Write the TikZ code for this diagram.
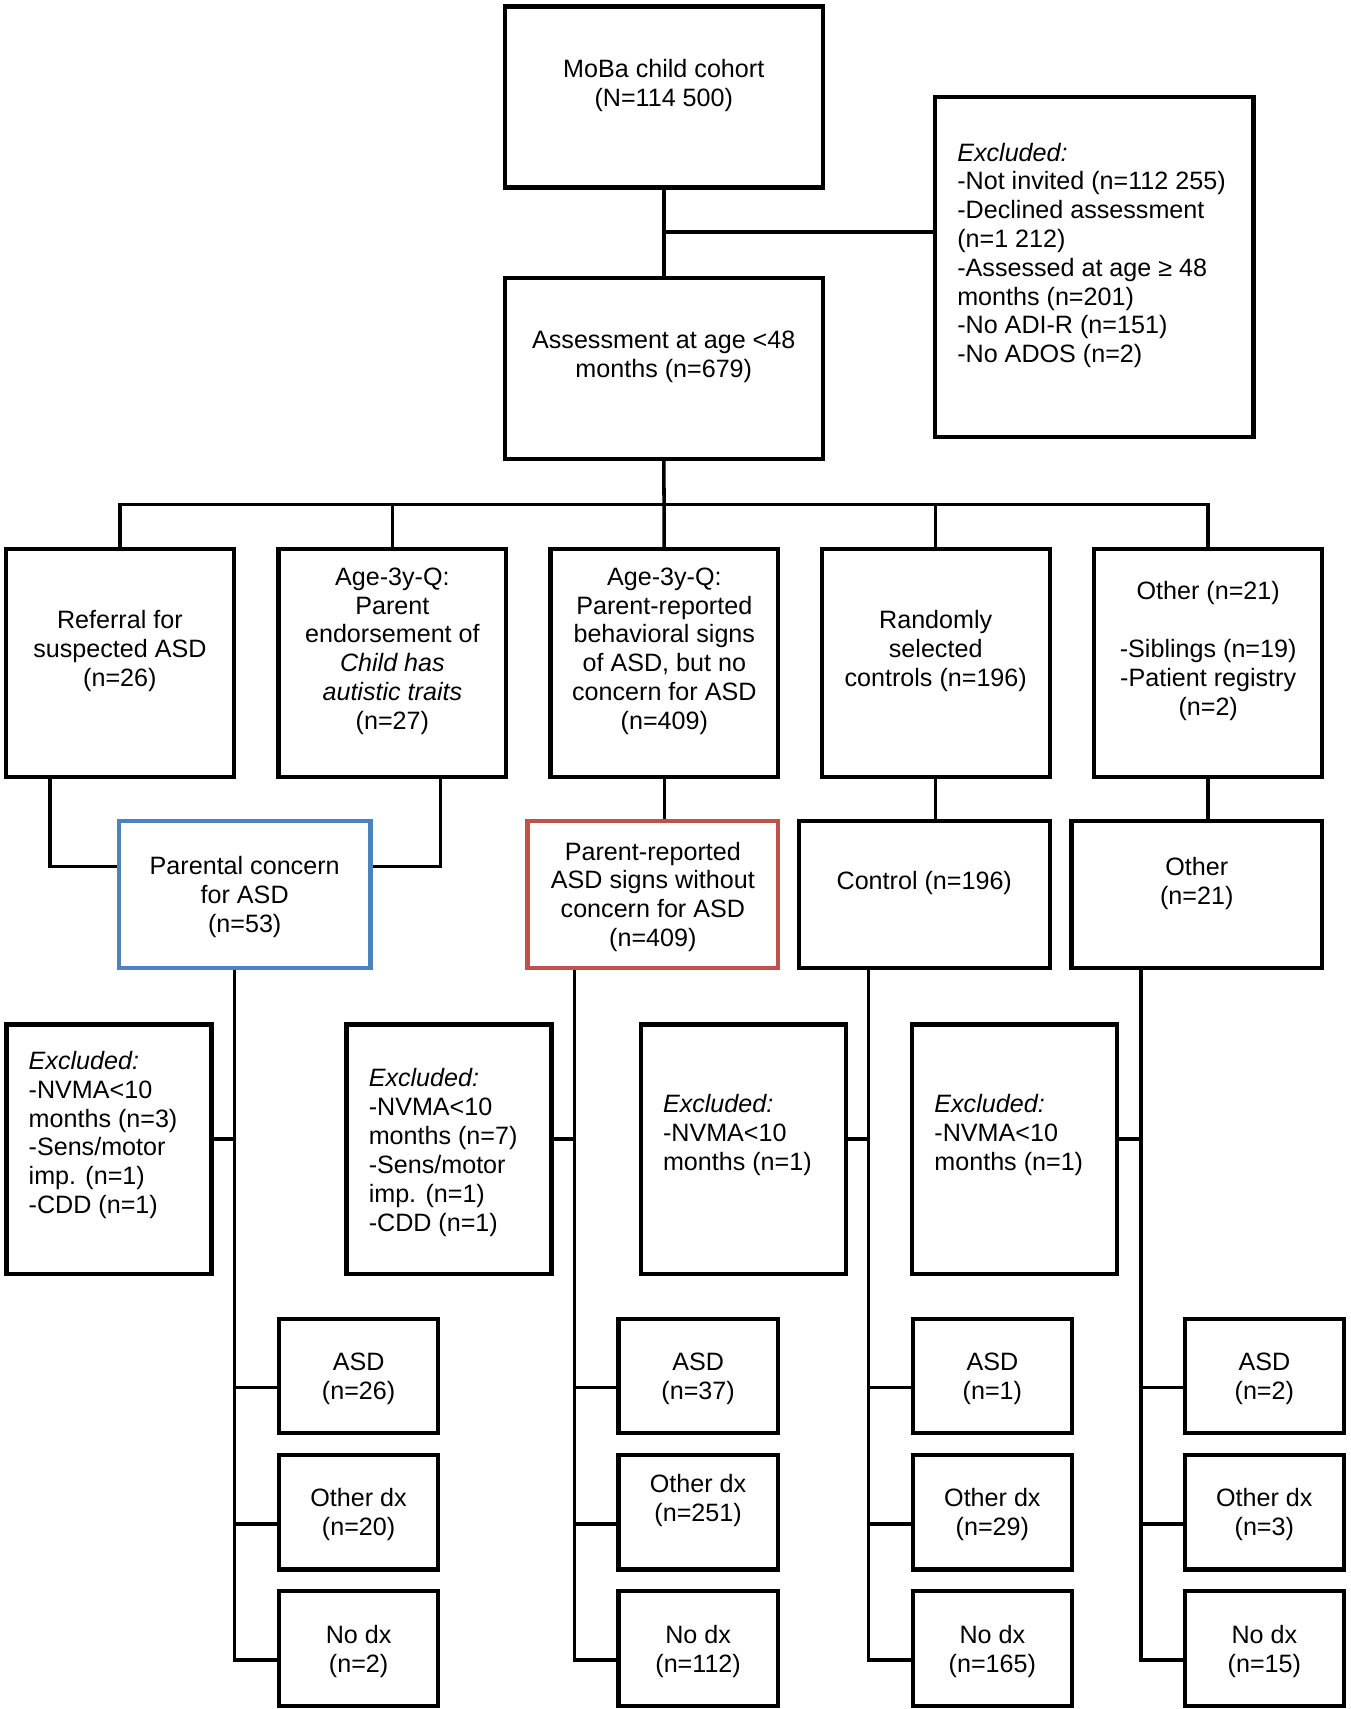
\documentclass[tikz,border=0pt]{standalone}
\usepackage{fontspec}
\setmainfont{Liberation Sans}
\definecolor{pcblue}{HTML}{4F81BD}
\definecolor{prred}{HTML}{C0504D}

\begin{document}
\begin{tikzpicture}[x=0.0218cm,y=-0.0218cm,
  box/.style 2 args={draw,line width=2.4pt,inner sep=0pt,align=center,text depth=0pt,font=\fontsize{14.3}{16.4}\selectfont,minimum width=#1*0.0218cm,minimum height=#2*0.0218cm},
  txt/.style={inner sep=0pt,align=center,text depth=0pt,font=\fontsize{14.3}{16.4}\selectfont},
  txl/.style={txt,align=left,anchor=west},
  link/.style={line width=2pt}]
  \useasboundingbox (0,0) rectangle (1239,1568);
  \node[box={292}{166}] (moba) at (609,89) {};
  \node[txt] (mobaT) at (609,76) {MoBa child cohort\\(N=114 500)};
  \node[box={292}{312}] (exA) at (1004,245) {};
  \node[txl] (exAT) at (878,232) {\textit{Excluded:}\\-Not invited (n=112 255)\\-Declined assessment\\(n=1 212)\\-Assessed at age ≥ 48\\months (n=201)\\-No ADI-R (n=151)\\-No ADOS (n=2)};
  \node[box={292}{166}] (assess) at (609,338) {};
  \node[txt] (assessT) at (609,325) {Assessment at age <48\\months (n=679)};
  \coordinate (exjoin) at (609,213);
  \coordinate (split) at (609,463);
  \draw[link] (moba) -- (assess);
  \draw[link] (exjoin) -- (exjoin -| exA.west);

  \node[box={209}{209}] (refer) at (110,608.5) {};
  \node[txt] (referT) at (110,595) {Referral for\\suspected ASD\\(n=26)};
  \node[box={209}{209}] (endorse) at (360,608.5) {};
  \node[txt] (endorseT) at (360,595) {Age-3y-Q:\\Parent\\endorsement of\\\textit{Child has}\\\textit{autistic traits}\\(n=27)};
  \node[box={209}{209}] (signs) at (609.5,608.5) {};
  \node[txt] (signsT) at (609.5,595) {Age-3y-Q:\\Parent-reported\\behavioral signs\\of ASD, but no\\concern for ASD\\(n=409)};
  \node[box={209}{209}] (random) at (858.5,608.5) {};
  \node[txt] (randomT) at (858.5,595) {Randomly\\selected\\controls (n=196)};
  \node[box={209}{209}] (otherA) at (1108.5,608.5) {};
  \node[txt] (otherAT) at (1108.5,595) {Other (n=21)\\[16.4pt]-Siblings (n=19)\\-Patient registry\\(n=2)};
  \draw[link] (assess) -- (signs);
  \draw[link] (refer.north) |- (split) -| (otherA.north);
  \draw[link] (endorse.north) -- (endorse.north |- split);
  \draw[link] (random.north) -- (random.north |- split);

  \node[box={231}{135},draw=pcblue] (concern) at (224.5,820.5) {Parental concern\\for ASD\\(n=53)};
  \node[box={230}{135},draw=prred] (noconc) at (599,820.5) {Parent-reported\\ASD signs without\\concern for ASD\\(n=409)};
  \node[box={230}{135}] (control) at (848,820.5) {};
  \node[txt] (controlT) at (848,808) {Control (n=196)};
  \node[box={230}{135}] (otherB) at (1098,820.5) {};
  \node[txt] (otherBT) at (1098,808) {Other\\(n=21)};
  \draw[link] ([xshift=0.927cm]refer.south west) |- ([yshift=0.556cm]concern.west);
  \draw[link] ([xshift=-1.3625cm]endorse.south east) |- ([yshift=0.556cm]concern.east);
  \draw[link] (signs.south) -- (signs.south |- noconc.north);
  \draw[link] (random.south) -- (random.south |- control.north);
  \draw[link] (otherA.south) -- (otherA.south |- otherB.north);

  \node[box={188}{229}] (exB) at (100,1054.5) {};
  \node[txl] (exBT) at (26,1039) {\textit{Excluded:}\\-NVMA<10\\months (n=3)\\-Sens/motor\\imp. (n=1)\\-CDD (n=1)};
  \node[box={188}{229}] (exC) at (412,1054.5) {};
  \node[txl] (exCT) at (338,1055) {\textit{Excluded:}\\-NVMA<10\\months (n=7)\\-Sens/motor\\imp. (n=1)\\-CDD (n=1)};
  \node[box={188}{229}] (exD) at (682,1054.5) {};
  \node[txl] (exDT) at (608,1039) {\textit{Excluded:}\\-NVMA<10\\months (n=1)};
  \node[box={188}{229}] (exE) at (931,1054.5) {};
  \node[txl] (exET) at (857,1039) {\textit{Excluded:}\\-NVMA<10\\months (n=1)};

  \node[box={146}{105}] (asdA) at (329,1262.5) {ASD\\(n=26)};
  \node[box={146}{105}] (odA) at (329,1387.5) {Other dx\\(n=20)};
  \node[box={146}{105}] (nodxA) at (329,1512.5) {No dx\\(n=2)};
  \node[box={146}{105}] (asdB) at (640.5,1262.5) {ASD\\(n=37)};
  \node[box={146}{105}] (odB) at (640.5,1387.5) {};
  \node[txt] (odBT) at (640.5,1374) {Other dx\\(n=251)};
  \node[box={146}{105}] (nodxB) at (640.5,1512.5) {No dx\\(n=112)};
  \node[box={146}{105}] (asdC) at (910.5,1262.5) {ASD\\(n=1)};
  \node[box={146}{105}] (odC) at (910.5,1387.5) {Other dx\\(n=29)};
  \node[box={146}{105}] (nodxC) at (910.5,1512.5) {No dx\\(n=165)};
  \node[box={146}{105}] (asdD) at (1160,1262.5) {ASD\\(n=2)};
  \node[box={146}{105}] (odD) at (1160,1387.5) {Other dx\\(n=3)};
  \node[box={146}{105}] (nodxD) at (1160,1512.5) {No dx\\(n=15)};

  \coordinate (xA) at (215,0);
  \coordinate (xB) at (527,0);
  \coordinate (xC) at (797,0);
  \coordinate (xD) at (1047,0);
  \draw[link] (concern.south -| xA) |- ([yshift=-0.23cm]nodxA.west);
  \draw[link] ([yshift=-0.23cm]asdA.west) -- ([yshift=-0.23cm]asdA.west -| xA);
  \draw[link] ([yshift=-0.23cm]odA.west) -- ([yshift=-0.23cm]odA.west -| xA);
  \draw[link] ([yshift=0.207cm]exB.east) -- ([yshift=0.207cm]exB.east -| xA);
  \draw[link] (noconc.south -| xB) |- ([yshift=-0.23cm]nodxB.west);
  \draw[link] ([yshift=-0.23cm]asdB.west) -- ([yshift=-0.23cm]asdB.west -| xB);
  \draw[link] ([yshift=-0.23cm]odB.west) -- ([yshift=-0.23cm]odB.west -| xB);
  \draw[link] ([yshift=0.207cm]exC.east) -- ([yshift=0.207cm]exC.east -| xB);
  \draw[link] (control.south -| xC) |- ([yshift=-0.23cm]nodxC.west);
  \draw[link] ([yshift=-0.23cm]asdC.west) -- ([yshift=-0.23cm]asdC.west -| xC);
  \draw[link] ([yshift=-0.23cm]odC.west) -- ([yshift=-0.23cm]odC.west -| xC);
  \draw[link] ([yshift=0.207cm]exD.east) -- ([yshift=0.207cm]exD.east -| xC);
  \draw[link] (otherB.south -| xD) |- ([yshift=-0.23cm]nodxD.west);
  \draw[link] ([yshift=-0.23cm]asdD.west) -- ([yshift=-0.23cm]asdD.west -| xD);
  \draw[link] ([yshift=-0.23cm]odD.west) -- ([yshift=-0.23cm]odD.west -| xD);
  \draw[link] ([yshift=0.207cm]exE.east) -- ([yshift=0.207cm]exE.east -| xD);
\end{tikzpicture}
\end{document}
